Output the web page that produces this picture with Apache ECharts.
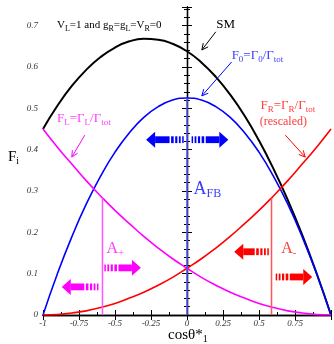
<!DOCTYPE html>
<html>
<head>
<meta charset="utf-8">
<script src="https://cdn.jsdelivr.net/npm/echarts@6/dist/echarts.min.js"></script>
<style>
html, body { margin: 0; padding: 0; background: #fff; }
#main { width: 334px; height: 344px; }
</style>
</head>
<body>
<div id="main"></div>
<script>
// helicity fractions vs cos(theta*)
var cosTheta = [-1, -0.9, -0.8, -0.7, -0.6, -0.5, -0.4, -0.3, -0.2, -0.1, 0, 0.1, 0.2, 0.3, 0.4, 0.5, 0.6, 0.7, 0.8, 0.9, 1];
var smVals = [0.450, 0.506, 0.554, 0.593, 0.624, 0.647, 0.662, 0.668, 0.666, 0.656, 0.638, 0.611, 0.576, 0.533, 0.482, 0.422, 0.354, 0.278, 0.194, 0.101, 0];
var f0Vals = [0, 0.100, 0.189, 0.268, 0.336, 0.394, 0.441, 0.478, 0.504, 0.520, 0.525, 0.520, 0.504, 0.478, 0.441, 0.394, 0.336, 0.268, 0.189, 0.100, 0];
var fLVals = [0.450, 0.406, 0.365, 0.325, 0.288, 0.253, 0.221, 0.190, 0.162, 0.136, 0.113, 0.091, 0.072, 0.055, 0.041, 0.028, 0.018, 0.010, 0.005, 0.001, 0];
var fRVals = [0, 0.001, 0.005, 0.010, 0.018, 0.028, 0.041, 0.055, 0.072, 0.091, 0.113, 0.136, 0.162, 0.190, 0.221, 0.253, 0.288, 0.325, 0.365, 0.406, 0.450];
// cut lines (A+, AFB, A-)
var cutX = [-0.587, 0, 0.587];
var cutTop = [0.283, 0.525, 0.283];

var serif = '"Liberation Serif", "DejaVu Serif", serif';
var BLUE = '#0000ff', MAG = '#ff00ff', RED = '#ff0000';

var chart = echarts.init(document.getElementById('main'));

function pairs(xs, ys) {
    return xs.map(function (x, i) { return [x, ys[i]]; });
}

function curve(name, vals, color, w) {
    return {
        name: name, type: 'line', data: pairs(cosTheta, vals),
        smooth: true, showSymbol: false, silent: true,
        lineStyle: { color: color, width: w }
    };
}

function cut(i, color) {
    return {
        type: 'line', data: [[cutX[i], 0], [cutX[i], cutTop[i]]],
        showSymbol: false, silent: true,
        lineStyle: { color: color, width: 1.5 }
    };
}

var tickLabel = { fontSize: 9, fontStyle: 'italic', fontFamily: serif, color: '#333' };
var blackLine = { lineStyle: { color: '#000', width: 1.3 } };

option = {
    animation: false,
    grid: { left: 43, right: 1, top: 7, bottom: 29 },
    xAxis: [{
        type: 'value', min: -1, max: 1, interval: 0.25, position: 'bottom',
        axisLine: blackLine,
        axisTick: { inside: true, length: 5 },
        minorTick: { show: true, splitNumber: 2, length: 3, lineStyle: { color: '#000' } },
        splitLine: { show: false },
        axisLabel: Object.assign({ margin: 4, formatter: function (v) { return v === 1 ? '' : String(v); } }, tickLabel)
    }, {
        type: 'value', min: -1, max: 1, interval: 0.25, position: 'top',
        axisLine: blackLine,
        axisTick: { inside: true, length: 5 },
        splitLine: { show: false },
        axisLabel: { show: false }
    }],
    yAxis: [{
        type: 'value', min: 0, max: 0.745, interval: 0.1, position: 'left',
        axisLine: blackLine,
        axisTick: { inside: true, length: 5 },
        minorTick: { show: true, splitNumber: 5, length: 3, lineStyle: { color: '#000' } },
        splitLine: { show: false },
        axisLabel: Object.assign({
            margin: 5,
            formatter: function (v) {
                return Math.abs(v * 10 - Math.round(v * 10)) > 1e-6 ? '' : String(Math.round(v * 10) / 10);
            }
        }, tickLabel)
    }, {
        type: 'value', min: 0, max: 0.745, interval: 0.1, position: 'right',
        axisLine: blackLine,
        axisTick: { inside: true, length: 5 },
        minorTick: { show: true, splitNumber: 5, length: 3, lineStyle: { color: '#000' } },
        splitLine: { show: false },
        axisLabel: { show: false }
    }],
    series: [
        curve('SM', smVals, '#000', 2),
        curve('F0', f0Vals, BLUE, 1.6),
        curve('FL', fLVals, MAG, 1.6),
        curve('FR', fRVals, RED, 1.6),
        cut(0, '#ff55ff'),
        cut(1, '#5a5aff'),
        cut(2, '#ff5555')
    ]
};
chart.setOption(option);

// ---- annotations ----
function px(x, y) {
    return chart.convertToPixel({ seriesIndex: 0 }, [x, y]);
}

// parts alternate normal / subscript
function rich(parts, size, sub, color) {
    var s = '';
    parts.forEach(function (p, i) {
        if (p !== '') s += (i % 2 ? '{s|' : '{m|') + p + '}';
    });
    return {
        text: s,
        rich: {
            m: { fontSize: size, fontFamily: serif, fill: color, lineHeight: size + 2, verticalAlign: 'top' },
            s: { fontSize: sub, fontFamily: serif, fill: color, lineHeight: sub, verticalAlign: 'bottom', padding: [Math.round(size * 0.55), 0, 0, 0] }
        }
    };
}

var labels = [
    { at: [-0.903, 0.699], parts: ['V', 'L', '=1 and g', 'R', '=g', 'L', '=V', 'R', '=0'], size: 11, sub: 8, color: '#000' },
    { at: [0.203, 0.701], parts: ['SM'], size: 13, sub: 9, color: '#000' },
    { at: [0.310, 0.624], parts: ['F', '0', '=\u0393', '0', '/\u0393', 'tot'], size: 13, sub: 9, color: '#3c3cff' },
    { at: [0.510, 0.503], parts: ['F', 'R', '=\u0393', 'R', '/\u0393', 'tot'], size: 13, sub: 9, color: '#ff3c3c' },
    { at: [0.505, 0.464], parts: ['(rescaled)'], size: 12, sub: 9, color: '#ff3c3c' },
    { at: [-0.903, 0.472], parts: ['F', 'L', '=\u0393', 'L', '/\u0393', 'tot'], size: 13, sub: 9, color: '#ff3cff' },
    { at: [0.045, 0.302], parts: ['A', 'FB'], size: 18, sub: 12, color: '#3c3cff' },
    { at: [-0.559, 0.157], parts: ['A', '+'], size: 16, sub: 11, color: '#ff3cff' },
    { at: [0.655, 0.157], parts: ['A', '-'], size: 16, sub: 11, color: '#ff3c3c' }
];

var pointers = [
    { from: [0.200, 0.685], to: [0.103, 0.641], color: '#000' },
    { from: [0.310, 0.612], to: [0.103, 0.530], color: BLUE },
    { from: [0.683, 0.435], to: [0.821, 0.382], color: RED },
    { from: [-0.710, 0.435], to: [-0.800, 0.382], color: MAG }
];

// tail x, tip x, y
var bigArrows = [
    { tail: -0.023, tip: -0.284, y: 0.424, color: BLUE },
    { tail: 0.032, tip: 0.287, y: 0.424, color: BLUE },
    { tail: -0.615, tip: -0.870, y: 0.068, color: MAG },
    { tail: -0.574, tip: -0.320, y: 0.114, color: MAG },
    { tail: 0.568, tip: 0.328, y: 0.153, color: RED },
    { tail: 0.616, tip: 0.870, y: 0.092, color: RED }
];

var graphic = [];

labels.forEach(function (l) {
    var p = px(l.at[0], l.at[1]);
    var st = rich(l.parts, l.size, l.sub, l.color);
    st.x = p[0]; st.y = p[1];
    st.align = 'left'; st.verticalAlign = 'middle';
    graphic.push({ type: 'text', silent: true, z: 100, style: st });
});

pointers.forEach(function (a) {
    var p = px(a.from[0], a.from[1]), q = px(a.to[0], a.to[1]);
    var ang = Math.atan2(q[1] - p[1], q[0] - p[0]);
    var L = 7, s = 0.45;
    var h1 = [q[0] - L * Math.cos(ang - s), q[1] - L * Math.sin(ang - s)];
    var h2 = [q[0] - L * Math.cos(ang + s), q[1] - L * Math.sin(ang + s)];
    graphic.push({ type: 'line', silent: true, z: 100, shape: { x1: p[0], y1: p[1], x2: q[0], y2: q[1] }, style: { stroke: a.color, lineWidth: 1 } });
    graphic.push({ type: 'polyline', silent: true, z: 100, shape: { points: [h1, q, h2] }, style: { stroke: a.color, fill: null, lineWidth: 1 } });
});

bigArrows.forEach(function (a) {
    var t = px(a.tail, a.y), h = px(a.tip, a.y);
    var dir = h[0] > t[0] ? 1 : -1;
    var y = t[1], x = t[0];
    var bh = 3.4, hh = 8, hl = 9;
    [1.5, 1.8, 2.2, 2.6].forEach(function (w) {
        var x2 = x + dir * w;
        graphic.push({ type: 'rect', silent: true, z: 100, shape: { x: Math.min(x, x2), y: y - bh, width: w, height: 2 * bh }, style: { fill: a.color } });
        x = x2 + dir * 1.5;
    });
    var base = h[0] - dir * hl;
    graphic.push({ type: 'rect', silent: true, z: 100, shape: { x: Math.min(x, base), y: y - bh, width: Math.abs(base - x), height: 2 * bh }, style: { fill: a.color } });
    graphic.push({ type: 'polygon', silent: true, z: 100, shape: { points: [[base, y - hh], [h[0], y], [base, y + hh]] }, style: { fill: a.color } });
});

// axis titles
var yt = rich(['F', 'i'], 15, 10, '#000');
yt.x = 8; yt.y = 158; yt.align = 'left'; yt.verticalAlign = 'middle';
graphic.push({ type: 'text', silent: true, style: yt });
var xt = rich(['cos\u03b8*', '1'], 15, 10, '#000');
xt.x = 168; xt.y = 336; xt.align = 'left'; xt.verticalAlign = 'middle';
graphic.push({ type: 'text', silent: true, style: xt });

chart.setOption({ graphic: graphic });
</script>
</body>
</html>
